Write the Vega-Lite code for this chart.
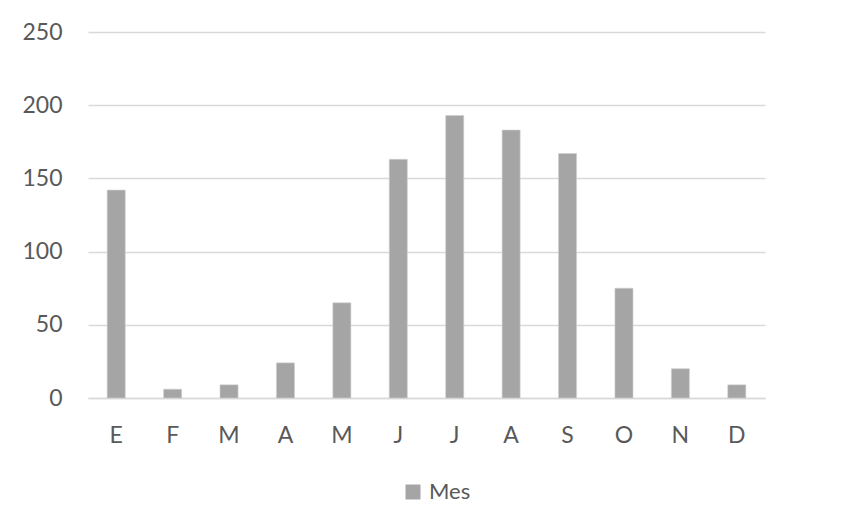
{
  "$schema": "https://vega.github.io/schema/vega-lite/v6.json",
  "width": 677,
  "height": 366,
  "autosize": {"type": "none"},
  "padding": {"left": 88, "top": 32, "right": 81, "bottom": 129},
  "background": "#FFFFFF",
  "data": {
    "values": [
      {"orden": 1, "mes": "E", "serie": "Mes", "valor": 142},
      {"orden": 2, "mes": "F", "serie": "Mes", "valor": 6},
      {"orden": 3, "mes": "M", "serie": "Mes", "valor": 9},
      {"orden": 4, "mes": "A", "serie": "Mes", "valor": 24},
      {"orden": 5, "mes": "M", "serie": "Mes", "valor": 65},
      {"orden": 6, "mes": "J", "serie": "Mes", "valor": 163},
      {"orden": 7, "mes": "J", "serie": "Mes", "valor": 193},
      {"orden": 8, "mes": "A", "serie": "Mes", "valor": 183},
      {"orden": 9, "mes": "S", "serie": "Mes", "valor": 167},
      {"orden": 10, "mes": "O", "serie": "Mes", "valor": 75},
      {"orden": 11, "mes": "N", "serie": "Mes", "valor": 20},
      {"orden": 12, "mes": "D", "serie": "Mes", "valor": 9}
    ]
  },
  "mark": {"type": "bar", "stroke": "#D0D0D0", "strokeWidth": 0.6},
  "encoding": {
    "x": {
      "field": "orden",
      "type": "ordinal",
      "scale": {"paddingInner": 0.68, "paddingOuter": 0.34},
      "axis": {
        "title": null,
        "labelExpr": "['E','F','M','A','M','J','J','A','S','O','N','D'][datum.value - 1]",
        "labelAngle": 0,
        "labelPadding": 26,
        "ticks": false,
        "domainColor": "#D9D9D9",
        "domainWidth": 1.3,
        "grid": false
      }
    },
    "y": {
      "field": "valor",
      "type": "quantitative",
      "scale": {"domain": [0, 250], "nice": false},
      "axis": {
        "title": null,
        "values": [0, 50, 100, 150, 200, 250],
        "domain": false,
        "ticks": false,
        "labelPadding": 26,
        "gridColor": "#D9D9D9",
        "gridWidth": 1.3
      }
    },
    "color": {
      "field": "serie",
      "type": "nominal",
      "scale": {"range": ["#A5A5A5"]},
      "legend": {
        "title": null,
        "orient": "none",
        "legendX": 314,
        "legendY": 449,
        "symbolType": "square",
        "symbolSize": 225,
        "symbolStrokeWidth": 0,
        "labelOffset": 5
      }
    }
  },
  "config": {
    "view": {"stroke": null},
    "font": "Lato",
    "axis": {
      "labelFont": "Lato",
      "labelFontSize": 23,
      "labelColor": "#595959"
    },
    "legend": {
      "labelFont": "Lato",
      "labelFontSize": 22,
      "labelColor": "#595959"
    }
  }
}
